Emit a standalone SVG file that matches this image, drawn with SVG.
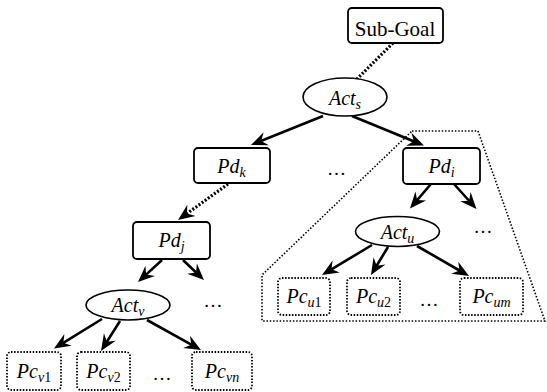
<svg xmlns="http://www.w3.org/2000/svg" width="547" height="392" viewBox="0 0 547 392">
<defs>
<marker id="ah" markerUnits="userSpaceOnUse" viewBox="-12 -9 24 18" refX="0" refY="0" markerWidth="24" markerHeight="18" orient="auto" overflow="visible">
<path d="M8,0 L-8.5,-7 L-3,0 L-8.5,7 Z" fill="#000"/>
</marker>
</defs>
<style>
.box{fill:#fff;stroke:#000;stroke-width:1.8}
.ell{fill:#fff;stroke:#000;stroke-width:1.6}
.pc{fill:#fff;stroke:#000;stroke-width:1.8;stroke-dasharray:1.5 1.6}
.group{fill:none;stroke:#000;stroke-width:1.6;stroke-dasharray:1.5 1.8}
.arr{stroke:#000;stroke-width:2.6;fill:none;marker-end:url(#ah)}
.dot{stroke:#000;stroke-width:3.2;fill:none;stroke-dasharray:2 1.8}
text{fill:#000;text-anchor:middle}
.lbl{font-size:20px;font-style:italic}
.rom{font-size:21px}
.sub{font-size:14px}
.n{font-style:normal}
.ell-t{font-size:19px}
</style>
<polygon class="group" points="412,131 478,131 545,321 262,321 262,275"/>
<g id="connectors">
<line class="dot" x1="393" y1="43" x2="357" y2="79"/>
<line class="arr" x1="323" y1="116" x2="258.4" y2="142"/>
<line class="arr" x1="352" y1="116" x2="416.6" y2="142.5"/>
<line class="dot" x1="228" y1="184" x2="184.5" y2="215.3" style="marker-end:url(#ah)"/>
<line class="arr" x1="162" y1="260" x2="143.9" y2="276.6"/>
<line class="arr" x1="183" y1="260" x2="198.2" y2="274.5"/>
<line class="arr" x1="431" y1="184" x2="415.2" y2="202.4"/>
<line class="arr" x1="454" y1="184" x2="471.1" y2="203"/>
<line class="arr" x1="102" y1="319" x2="60.8" y2="344.3"/>
<line class="arr" x1="120" y1="321" x2="105.3" y2="344.2"/>
<line class="arr" x1="147" y1="320" x2="194" y2="346.1"/>
<line class="arr" x1="372" y1="245" x2="328.9" y2="270.9"/>
<line class="arr" x1="388" y1="247" x2="375.1" y2="268.2"/>
<line class="arr" x1="417" y1="246" x2="462.1" y2="272"/>
</g>
<g font-family="'Liberation Serif', 'Times New Roman', Tinos, 'DejaVu Serif', serif">
<g id="subgoal"><rect class="box" x="348" y="8" width="95" height="35" rx="4"/><text class="rom" x="395" y="35.5">Sub-Goal</text></g>
<g id="act_s"><ellipse class="ell" cx="345" cy="97" rx="42" ry="19"/><text class="lbl" x="345" y="104.5">Act<tspan class="sub" dy="4">s</tspan></text></g>
<g id="pd_k"><rect class="box" x="194" y="148" width="76" height="35" rx="4"/><text class="lbl" x="231.5" y="173">Pd<tspan class="sub" dy="4">k</tspan></text></g>
<g id="pd_i"><rect class="box" x="403" y="148" width="77" height="36" rx="4"/><text class="lbl" x="441.5" y="173">Pd<tspan class="sub" dy="4">i</tspan></text></g>
<g id="pd_j"><rect class="box" x="133" y="222" width="77" height="37" rx="4"/><text class="lbl" x="171.5" y="246.5">Pd<tspan class="sub" dy="4">j</tspan></text></g>
<g id="act_v"><ellipse class="ell" cx="128" cy="305" rx="42" ry="15"/><text class="lbl" x="128" y="312">Act<tspan class="sub" dy="4">v</tspan></text></g>
<g id="act_u"><ellipse class="ell" cx="397.5" cy="231.5" rx="42" ry="15"/><text class="lbl" x="397.5" y="238.5">Act<tspan class="sub" dy="4">u</tspan></text></g>
<g id="pc_v1"><rect class="pc" x="7" y="352" width="54" height="38" rx="4"/><text class="lbl" x="34" y="378">Pc<tspan class="sub" dy="4">v<tspan class="n">1</tspan></tspan></text></g>
<g id="pc_v2"><rect class="pc" x="77" y="352" width="53" height="38" rx="4"/><text class="lbl" x="103.5" y="378">Pc<tspan class="sub" dy="4">v<tspan class="n">2</tspan></tspan></text></g>
<g id="pc_vn"><rect class="pc" x="192" y="352" width="60" height="38" rx="4"/><text class="lbl" x="222" y="378">Pc<tspan class="sub" dy="4">vn</tspan></text></g>
<g id="pc_u1"><rect class="pc" x="278" y="278" width="52" height="37" rx="4"/><text class="lbl" x="304" y="303">Pc<tspan class="sub" dy="4">u<tspan class="n">1</tspan></tspan></text></g>
<g id="pc_u2"><rect class="pc" x="347" y="278" width="53" height="37" rx="4"/><text class="lbl" x="373.5" y="303">Pc<tspan class="sub" dy="4">u<tspan class="n">2</tspan></tspan></text></g>
<g id="pc_um"><rect class="pc" x="460" y="278" width="63" height="37" rx="4"/><text class="lbl" x="491.5" y="303">Pc<tspan class="sub" dy="4">um</tspan></text></g>
<g id="ellipses">
<text class="ell-t" x="336.5" y="175">…</text>
<text class="ell-t" x="483" y="233">…</text>
<text class="ell-t" x="213" y="307">…</text>
<text class="ell-t" x="429" y="306">…</text>
<text class="ell-t" x="162" y="380">…</text>
</g>
</g>
</svg>
